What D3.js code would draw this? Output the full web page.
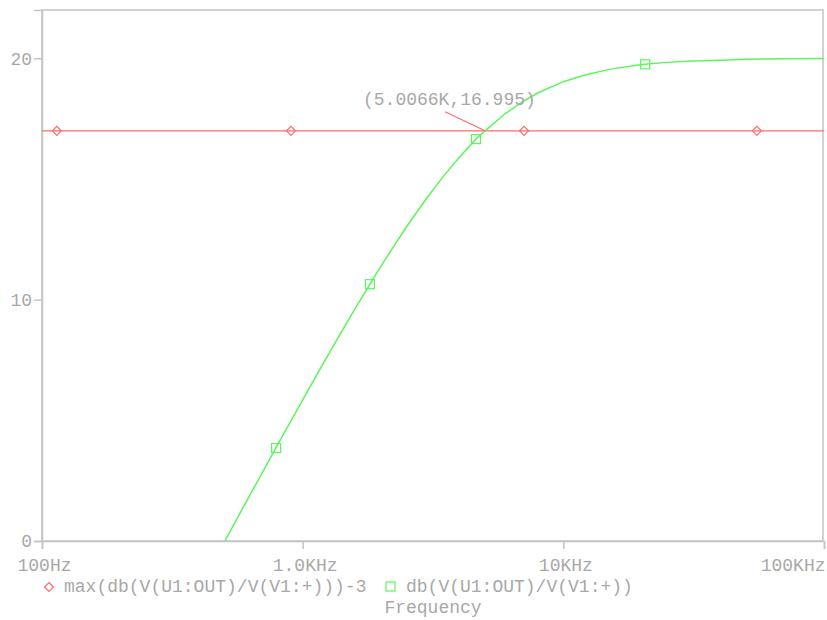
<!DOCTYPE html>
<html>
<head>
<meta charset="utf-8">
<script src="https://cdn.jsdelivr.net/npm/d3@7"></script>
<style>
  body { margin: 0; background: #fff; }
  svg text { font-family: "Liberation Mono", "DejaVu Sans Mono", monospace; font-size: 18px; fill: #a8a8a8; }
</style>
</head>
<body>
<script>
(function() {
	"use strict";
	// green trace: db(V(U1:OUT)/V(V1:+)), [Hz, dB]
	const GAIN_FREQ = [ 503, 600, 700, 800, 1000, 1200, 1500, 1811, 2000, 2500, 3000, 3500, 4000, 4620,
	                    5007, 6000, 7000, 8000, 10000, 12000, 15000, 20000, 25000, 30000, 40000, 50000, 70000, 100000 ],
	   GAIN_DB = [ 0.0, 1.52, 2.83, 3.97, 5.85, 7.36, 9.17, 10.64, 11.40, 13.01, 14.22, 15.17, 15.91, 16.65,
	               16.995, 17.71, 18.21, 18.57, 19.03, 19.30, 19.54, 19.74, 19.83, 19.88, 19.92, 19.96, 19.98, 19.99 ],
	   GAIN_MARK_FREQ = [ 791, 1811, 4620, 20600 ],
	   GAIN_MARK_DB = [ 3.85, 10.64, 16.65, 19.75 ],
	   // red trace: max(...)-3, a flat line
	   LEVEL_FREQ = [ 100, 100000 ],
	   LEVEL_DB = [ 16.995, 16.995 ],
	   LEVEL_MARK_FREQ = [ 114, 902, 7070, 55300 ],
	   X_TICKS = [ 100, 1000, 10000, 100000 ],
	   X_LABELS = [ "100Hz", "1.0KHz", "10KHz", "100KHz" ],
	   Y_TICKS = [ 0, 10, 20 ],
	   CURSOR = { f: 5006.6, db: 16.995, label: "(5.0066K,16.995)" },
	   LEGEND = [ "max(db(V(U1:OUT)/V(V1:+)))-3", "db(V(U1:OUT)/V(V1:+))" ];

	const W = 827, H = 620,
	   m = { l: 42, r: 3, t: 10, b: 79 },
	   RED = "#ff6b6b", GREEN = "#5cf55c", GRID = "#c4c4c4";

	const svg = d3.select("body").append("svg").attr("width", W).attr("height", H);
	const x = d3.scaleLog().domain([100, 100000]).range([m.l, W - m.r]);
	const y = d3.scaleLinear().domain([0, 22]).range([H - m.b, m.t]);

	svg.append("defs").append("clipPath").attr("id", "clip")
		.append("rect").attr("x", m.l).attr("y", m.t)
		.attr("width", W - m.r - m.l).attr("height", H - m.b - m.t);

	// frame
	svg.append("rect").attr("x", m.l).attr("y", m.t)
		.attr("width", W - m.r - m.l - 1).attr("height", H - m.b - m.t)
		.attr("fill", "none").attr("stroke", GRID).attr("stroke-width", 1.5);

	// axes
	const xAxis = svg.append("g").attr("transform", "translate(0," + y(0) + ")")
		.call(d3.axisBottom(x).tickValues(X_TICKS).tickFormat((d, i) => X_LABELS[i]).tickSize(8).tickPadding(9));
	xAxis.select(".domain").attr("stroke", GRID).attr("stroke-width", 1.5);
	xAxis.selectAll(".tick line").attr("stroke", GRID).attr("stroke-width", 1.5);
	xAxis.selectAll(".tick text").attr("font-size", null).attr("font-family", null).attr("fill", null)
		.attr("text-anchor", (d, i) => i === X_TICKS.length - 1 ? "end" : "middle")
		.attr("dx", (d, i) => i === X_TICKS.length - 1 ? 1 : 2);

	const yAxis = svg.append("g").attr("transform", "translate(" + m.l + ",0)")
		.call(d3.axisLeft(y).tickValues(Y_TICKS).tickFormat(d3.format("d")).tickSize(8).tickPadding(2));
	yAxis.select(".domain").attr("stroke", GRID).attr("stroke-width", 1.5);
	yAxis.selectAll(".tick line").attr("stroke", GRID).attr("stroke-width", 1.5);
	yAxis.selectAll(".tick text").attr("font-size", null).attr("font-family", null).attr("fill", null);

	const plot = svg.append("g").attr("clip-path", "url(#clip)");
	const line = d3.line().x(d => x(d[0])).y(d => y(d[1]));

	plot.append("path").datum(d3.zip(LEVEL_FREQ, LEVEL_DB)).attr("d", line)
		.attr("fill", "none").attr("stroke", RED).attr("stroke-width", 1.2);
	plot.append("path").datum(d3.zip(GAIN_FREQ, GAIN_DB)).attr("d", line)
		.attr("fill", "none").attr("stroke", GREEN).attr("stroke-width", 1.5);

	const diamond = (cx, cy) => "M" + cx + "," + (cy - 4.5) + "L" + (cx + 4.5) + "," + cy +
		"L" + cx + "," + (cy + 4.5) + "L" + (cx - 4.5) + "," + cy + "Z";

	plot.selectAll("path.dm").data(LEVEL_MARK_FREQ).enter().append("path").attr("class", "dm")
		.attr("d", d => diamond(x(d), y(LEVEL_DB[0])))
		.attr("fill", "none").attr("stroke", RED).attr("stroke-width", 1.2);
	plot.selectAll("rect.sq").data(d3.zip(GAIN_MARK_FREQ, GAIN_MARK_DB)).enter().append("rect").attr("class", "sq")
		.attr("x", d => x(d[0]) - 4.5).attr("y", d => y(d[1]) - 4.5)
		.attr("width", 9).attr("height", 9)
		.attr("fill", "none").attr("stroke", GREEN).attr("stroke-width", 1.2);

	// cursor label
	const cx = x(CURSOR.f), cy = y(CURSOR.db);
	svg.append("line").attr("x1", cx).attr("y1", cy).attr("x2", cx - 40).attr("y2", cy - 19)
		.attr("stroke", RED).attr("stroke-width", 1.2);
	svg.append("text").attr("x", cx - 122).attr("y", cy - 26).text(CURSOR.label);

	// legend
	const ly = H - 28;
	svg.append("path").attr("d", diamond(49, ly - 5)).attr("fill", "none").attr("stroke", RED).attr("stroke-width", 1.2);
	svg.append("text").attr("x", 64).attr("y", ly).text(LEGEND[0]);
	svg.append("rect").attr("x", 386).attr("y", ly - 10).attr("width", 9).attr("height", 9)
		.attr("fill", "none").attr("stroke", GREEN).attr("stroke-width", 1.2);
	svg.append("text").attr("x", 406).attr("y", ly).text(LEGEND[1]);

	svg.append("text").attr("x", (m.l + W - m.r) / 2).attr("y", H - 7)
		.attr("text-anchor", "middle").text("Frequency");
}());
</script>
</body>
</html>
